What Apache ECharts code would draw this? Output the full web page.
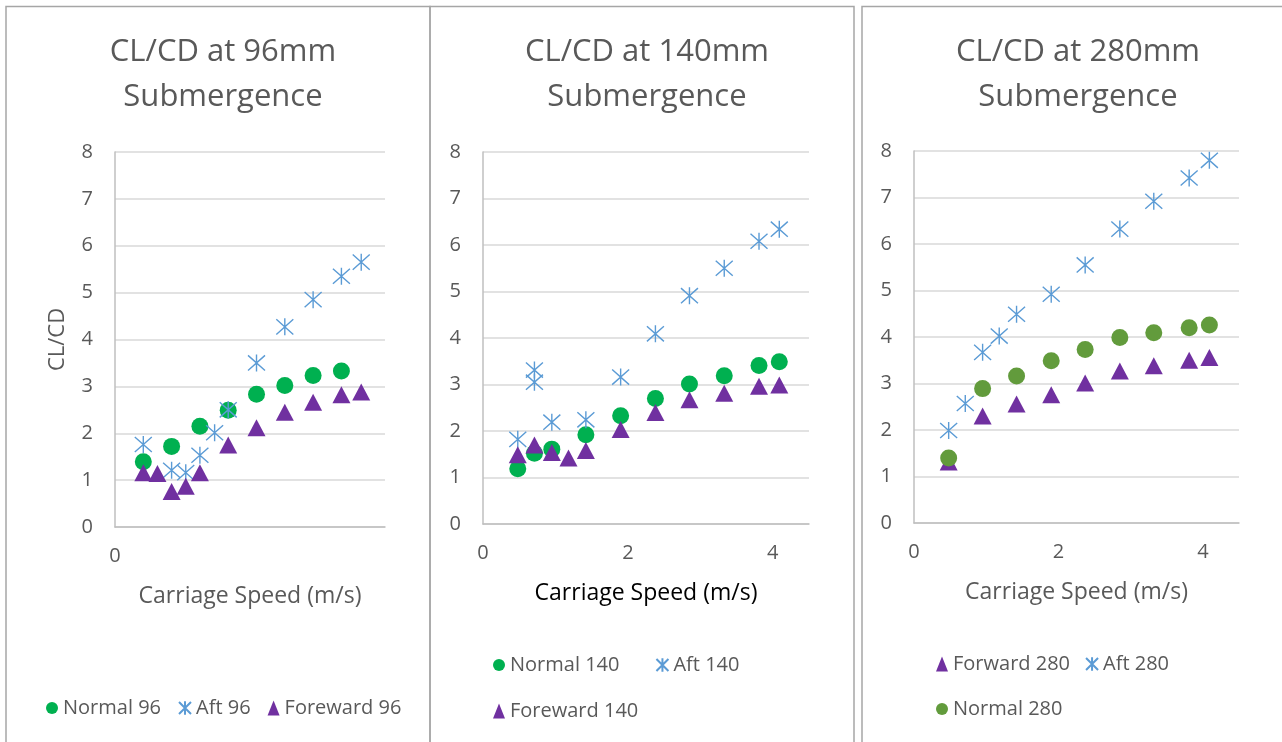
<!DOCTYPE html>
<html>
<head>
<meta charset="utf-8">
<script src="https://cdn.jsdelivr.net/npm/echarts@6/dist/echarts.min.js"></script>
<style>
  html, body { margin: 0; padding: 0; background: #fff; }
  #main { width: 1282px; height: 742px; }
</style>
</head>
<body>
<div id="main"></div>
<script>
// 96mm submergence
var normal96X = [0.5, 1.0, 1.5, 2.0, 2.5, 3.0, 3.5, 4.0];
var normal96Y = [1.39, 1.72, 2.15, 2.49, 2.83, 3.02, 3.23, 3.33];
var aft96X = [0.5, 1.0, 1.25, 1.5, 1.76, 2.0, 2.5, 3.0, 3.5, 4.0, 4.35];
var aft96Y = [1.76, 1.21, 1.16, 1.53, 2.01, 2.50, 3.50, 4.27, 4.85, 5.35, 5.65];
var fore96X = [0.5, 0.75, 1.0, 1.25, 1.5, 2.0, 2.5, 3.0, 3.5, 4.0, 4.35];
var fore96Y = [1.16, 1.14, 0.76, 0.87, 1.16, 1.75, 2.12, 2.45, 2.66, 2.82, 2.88];

// 140mm submergence
var normal140X = [0.48, 0.71, 0.95, 1.42, 1.90, 2.38, 2.85, 3.33, 3.81, 4.09];
var normal140Y = [1.19, 1.52, 1.61, 1.92, 2.33, 2.70, 3.01, 3.19, 3.41, 3.49];
var aft140X = [0.48, 0.71, 0.71, 0.95, 1.42, 1.90, 2.38, 2.85, 3.33, 3.81, 4.09];
var aft140Y = [1.82, 3.31, 3.05, 2.19, 2.24, 3.16, 4.09, 4.91, 5.50, 6.08, 6.34];
var fore140X = [0.48, 0.71, 0.95, 1.18, 1.42, 1.90, 2.38, 2.85, 3.33, 3.81, 4.09];
var fore140Y = [1.49, 1.70, 1.54, 1.42, 1.58, 2.03, 2.40, 2.67, 2.81, 2.96, 2.99];

// 280mm submergence
var fwd280X = [0.48, 0.95, 1.42, 1.90, 2.37, 2.85, 3.32, 3.81, 4.09];
var fwd280Y = [1.31, 2.30, 2.56, 2.76, 3.01, 3.27, 3.38, 3.50, 3.56];
var aft280X = [0.48, 0.71, 0.95, 1.18, 1.42, 1.90, 2.37, 2.85, 3.32, 3.81, 4.09];
var aft280Y = [1.99, 2.57, 3.67, 4.02, 4.49, 4.92, 5.55, 6.32, 6.92, 7.42, 7.80];
var normal280X = [0.48, 0.95, 1.42, 1.90, 2.37, 2.85, 3.32, 3.81, 4.09];
var normal280Y = [1.40, 2.89, 3.16, 3.49, 3.73, 3.99, 4.09, 4.20, 4.26];

var FONT = 'Open Sans';
var GREY = '#595959';
var green = '#00b050', green280 = '#629b3c', blue = '#5b9bd5', purple = '#7030a0';
var starPath = 'path://M0,0L16,16M16,0L0,16M8,-1L8,17';

function zip(xs, ys) {
    return xs.map(function (x, i) { return [x, ys[i]]; });
}

function circleSeries(name, idx, xs, ys, color) {
    return {
        name: name, type: 'scatter', xAxisIndex: idx, yAxisIndex: idx,
        symbol: 'circle', symbolSize: 17,
        itemStyle: { color: color, opacity: 1 },
        data: zip(xs, ys)
    };
}
function triSeries(name, idx, xs, ys) {
    return {
        name: name, type: 'scatter', xAxisIndex: idx, yAxisIndex: idx,
        symbol: 'triangle', symbolSize: [18, 17],
        itemStyle: { color: purple, opacity: 1 },
        data: zip(xs, ys)
    };
}
function starSeries(name, idx, xs, ys) {
    return {
        name: name, type: 'scatter', xAxisIndex: idx, yAxisIndex: idx,
        symbol: starPath, symbolSize: 17,
        itemStyle: { color: 'rgba(0,0,0,0)', borderColor: blue, borderWidth: 1.4, opacity: 1 },
        data: zip(xs, ys)
    };
}

function xAxis(idx, max, interval, nameColor) {
    return {
        gridIndex: idx, type: 'value', min: 0, max: max, interval: interval,
        name: 'Carriage Speed (m/s)', nameLocation: 'middle', nameGap: 58,
        nameTextStyle: { color: nameColor, fontFamily: FONT, fontSize: 23 },
        axisLine: { lineStyle: { color: '#bfbfbf', width: 1.5 } },
        axisTick: { show: false },
        splitLine: { show: false },
        axisLabel: { color: GREY, fontFamily: FONT, fontSize: 20, margin: 19, showMaxLabel: false }
    };
}
function yAxis(idx, withName) {
    return {
        gridIndex: idx, type: 'value', min: 0, max: 8, interval: 1,
        name: withName ? 'CL/CD' : '', nameLocation: 'middle', nameGap: 46,
        nameTextStyle: { color: GREY, fontFamily: FONT, fontSize: 22 },
        axisLine: { show: true, lineStyle: { color: '#bfbfbf', width: 1.5 } },
        axisTick: { show: false },
        splitLine: { lineStyle: { color: '#d9d9d9', width: 1.5 } },
        axisLabel: { color: GREY, fontFamily: FONT, fontSize: 20, margin: 22 }
    };
}
function legend(names, left, top, gap) {
    return {
        data: names, left: left, top: top, orient: 'horizontal',
        itemWidth: 12, itemHeight: 15, itemGap: gap,
        textStyle: { color: GREY, fontFamily: FONT, fontSize: 20 }
    };
}
function title(text, cx) {
    return {
        text: text, left: cx, top: 25, textAlign: 'center',
        textStyle: { color: GREY, fontFamily: FONT, fontSize: 31, fontWeight: 'normal', lineHeight: 45 }
    };
}

var chart = echarts.init(document.getElementById('main'));
chart.setOption({
    backgroundColor: '#fff',
    animation: false,
    title: [
        title('CL/CD at 96mm\nSubmergence', 218),
        title('CL/CD at 140mm\nSubmergence', 642),
        title('CL/CD at 280mm\nSubmergence', 1073)
    ],
    grid: [
        { left: 115, top: 152, width: 270, height: 375 },
        { left: 483, top: 152, width: 326, height: 372 },
        { left: 914, top: 151, width: 325, height: 372 }
    ],
    xAxis: [
        xAxis(0, 4.77, 5, GREY),
        xAxis(1, 4.5, 2, '#000'),
        xAxis(2, 4.5, 2, GREY)
    ],
    yAxis: [yAxis(0, true), yAxis(1, false), yAxis(2, false)],
    legend: [
        legend(['Normal 96', 'Aft 96', 'Foreward 96'], 41, 693, 17),
        legend(['Normal 140', 'Aft 140'], 488, 650, 36),
        legend(['Foreward 140'], 488, 696, 10),
        legend(['Forward 280', 'Aft 280'], 931, 649, 15),
        legend(['Normal 280'], 931, 694, 10)
    ],
    graphic: [
        { type: 'rect', shape: { x: 6, y: 6.5, width: 424, height: 760 }, style: { fill: 'none', stroke: '#a6a6a6', lineWidth: 1.5 } },
        { type: 'rect', shape: { x: 430, y: 6.5, width: 424, height: 760 }, style: { fill: 'none', stroke: '#a6a6a6', lineWidth: 1.5 } },
        { type: 'rect', shape: { x: 862, y: 6.5, width: 440, height: 760 }, style: { fill: 'none', stroke: '#a6a6a6', lineWidth: 1.5 } }
    ],
    series: [
        circleSeries('Normal 96', 0, normal96X, normal96Y, green),
        starSeries('Aft 96', 0, aft96X, aft96Y),
        triSeries('Foreward 96', 0, fore96X, fore96Y),
        circleSeries('Normal 140', 1, normal140X, normal140Y, green),
        starSeries('Aft 140', 1, aft140X, aft140Y),
        triSeries('Foreward 140', 1, fore140X, fore140Y),
        triSeries('Forward 280', 2, fwd280X, fwd280Y),
        starSeries('Aft 280', 2, aft280X, aft280Y),
        circleSeries('Normal 280', 2, normal280X, normal280Y, green280)
    ]
});
</script>
</body>
</html>
